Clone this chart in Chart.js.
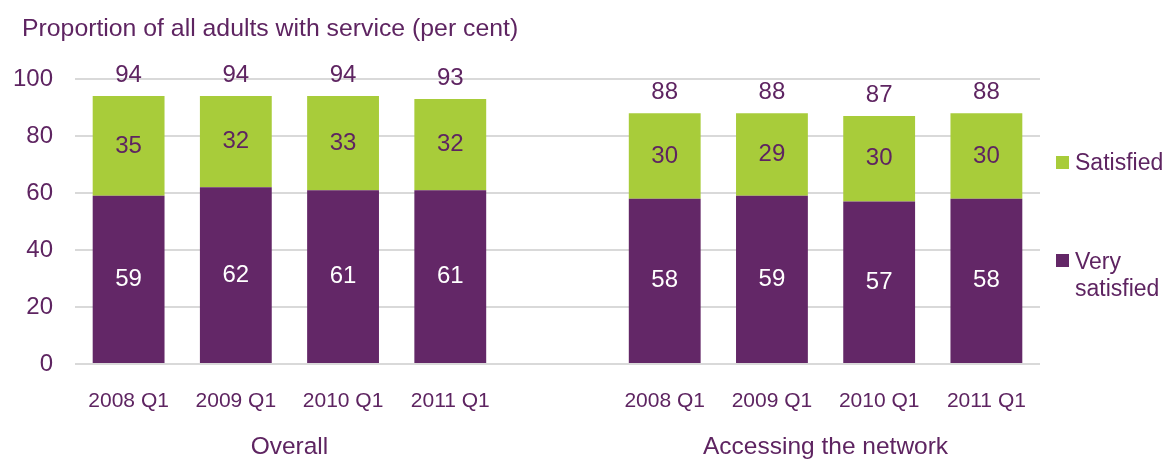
<!DOCTYPE html>
<html>
<head>
<meta charset="utf-8">
<script src="https://cdn.jsdelivr.net/npm/chart.js@4"></script>
<style>
  html, body { margin: 0; padding: 0; background: #ffffff; }
  #wrap { width: 1174px; height: 462px; }
</style>
</head>
<body>
<div id="wrap"><canvas id="satisfaction"></canvas></div>
<script>
// Categorias: dois grupos de quatro trimestres, com uma coluna vazia entre eles
const categorias = ['2008 Q1', '2009 Q1', '2010 Q1', '2011 Q1', '', '2008 Q1', '2009 Q1', '2010 Q1', '2011 Q1'];
const muitoSatisfeito = [59, 62, 61, 61, null, 58, 59, 57, 58];
const satisfeito = [35, 32, 33, 32, null, 30, 29, 30, 30];
const totais = [94, 94, 94, 93, null, 88, 88, 87, 88];
const grupos = ['Overall', 'Accessing the network'];
const yTicks = [0, 20, 40, 60, 80, 100];

const ROXO = '#632767';
const VERDE = '#a8cc3a';
const TEXTO = '#5e2461';
const FONTE = "'Liberation Sans', Arial, sans-serif";

// Rótulos: valores dentro dos segmentos, totais acima, títulos de grupo e legenda
const rotulosPlugin = {
  id: 'rotulos',
  afterDatasetsDraw(chart) {
    const ctx = chart.ctx;
    const y = chart.scales.y;
    ctx.save();
    ctx.textAlign = 'center';
    ctx.textBaseline = 'middle';
    ctx.font = '24px ' + FONTE;

    chart.data.datasets.forEach((ds, i) => {
      const meta = chart.getDatasetMeta(i);
      meta.data.forEach((bar, j) => {
        if (ds.data[j] == null) return;
        ctx.fillStyle = i === 0 ? '#ffffff' : TEXTO;
        ctx.fillText(String(ds.data[j]), bar.x, (bar.y + bar.base) / 2);
      });
    });

    const meta0 = chart.getDatasetMeta(0);
    ctx.fillStyle = TEXTO;
    totais.forEach((t, j) => {
      if (t == null) return;
      ctx.fillText(String(t), meta0.data[j].x, y.getPixelForValue(t) - 21);
    });
    ctx.restore();
  },
  afterDraw(chart) {
    const ctx = chart.ctx;
    const x = chart.scales.x;
    ctx.save();
    ctx.fillStyle = TEXTO;
    ctx.textBaseline = 'middle';

    // título do eixo
    ctx.font = '24.8px ' + FONTE;
    ctx.textAlign = 'left';
    ctx.fillText('Proportion of all adults with service (per cent)', 22, 29);

    // nomes dos grupos
    ctx.font = '24.5px ' + FONTE;
    ctx.textAlign = 'center';
    ctx.fillText(grupos[0], (x.getPixelForValue(1) + x.getPixelForValue(2)) / 2, 447);
    ctx.fillText(grupos[1], (x.getPixelForValue(6) + x.getPixelForValue(7)) / 2, 447);

    // legenda
    ctx.textAlign = 'left';
    ctx.fillStyle = VERDE;
    ctx.fillRect(1056, 156, 13, 13);
    ctx.fillStyle = ROXO;
    ctx.fillRect(1056, 254, 13, 13);
    ctx.fillStyle = TEXTO;
    ctx.font = '23px ' + FONTE;
    ctx.fillText('Satisfied', 1075, 164);
    ctx.fillText('Very', 1075, 263);
    ctx.fillText('satisfied', 1075, 290);
    ctx.restore();
  }
};

new Chart(document.getElementById('satisfaction'), {
  type: 'bar',
  data: {
    labels: categorias,
    datasets: [
      { label: 'Very satisfied', data: muitoSatisfeito, backgroundColor: ROXO },
      { label: 'Satisfied', data: satisfeito, backgroundColor: VERDE }
    ]
  },
  options: {
    responsive: true,
    maintainAspectRatio: false,
    animation: false,
    layout: { padding: { top: 79, right: 134, bottom: 0, left: 0 } },
    datasets: { bar: { categoryPercentage: 1, barPercentage: 0.67 } },
    plugins: {
      legend: { display: false },
      tooltip: { enabled: false }
    },
    scales: {
      x: {
        stacked: true,
        grid: { display: false },
        border: { display: false },
        ticks: { color: TEXTO, font: { family: FONTE, size: 21 }, padding: 17, maxRotation: 0, autoSkip: false },
        afterFit: s => { s.height = 98; }
      },
      y: {
        stacked: true,
        min: 0,
        max: 100,
        afterBuildTicks: s => { s.ticks = yTicks.map(v => ({ value: v })); },
        grid: { color: '#d9d9d9', lineWidth: 2, drawTicks: false },
        border: { display: false },
        ticks: { color: TEXTO, font: { family: FONTE, size: 24 }, padding: 22 },
        afterFit: s => { s.width = 75; }
      }
    }
  },
  plugins: [rotulosPlugin]
});
</script>
</body>
</html>
